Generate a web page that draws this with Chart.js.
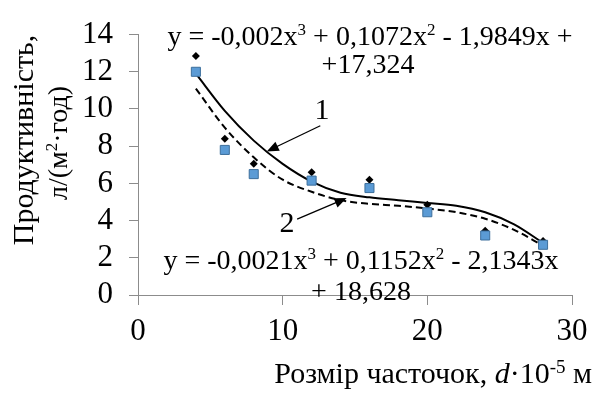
<!DOCTYPE html>
<html>
<head>
<meta charset="utf-8">
<script src="https://cdn.jsdelivr.net/npm/chart.js@4.4.0/dist/chart.umd.min.js"></script>
<style>
    body { margin: 0; background: #fff; }
</style>
</head>
<body>
<canvas id="chart" width="597" height="394"></canvas>
<script>
// Particle size, d*10^-5 m
const sizes = [4, 6, 8, 12, 16, 20, 24, 28];
// Measured productivity, series 1 (diamonds) and 2 (squares)
const prod1 = [12.85, 8.4, 7.05, 6.6, 6.2, 4.85, 3.45, 2.9];
const prod2 = [12.0, 7.8, 6.5, 6.15, 5.75, 4.45, 3.2, 2.7];
// Trend curves
const trendX = [4, 6, 8, 10, 12, 14, 16, 18, 20, 22, 24, 26, 28];
const trend1 = [11.9, 9.9, 8.3, 7.05, 6.1, 5.5, 5.25, 5.1, 4.95, 4.8, 4.45, 3.8, 2.8];
const trend2 = [11.1, 9.0, 7.4, 6.2, 5.55, 5.1, 4.9, 4.8, 4.65, 4.45, 4.1, 3.5, 2.65];

const xTicks = [0, 10, 20, 30];
const yTicks = [0, 2, 4, 6, 8, 10, 12, 14];

const FONT = '"Liberation Serif"';
const AXIS_GREY = '#8c8c8c';

function pairs(xs, ys) {
    return xs.map((x, i) => ({ x: x, y: ys[i] }));
}

// Draw a line of text made of runs, some of them superscript or italic
function drawRich(ctx, runs, x, y, size, align) {
    const fontFor = r => (r.italic ? 'italic ' : '') + Math.round(r.sup ? size * 0.62 : size) + 'px ' + FONT;
    let w = 0;
    runs.forEach(r => { ctx.font = fontFor(r); w += ctx.measureText(r.t).width; });
    let cx = align === 'center' ? x - w / 2 : (align === 'right' ? x - w : x);
    ctx.textAlign = 'left';
    ctx.textBaseline = 'alphabetic';
    runs.forEach(r => {
        ctx.font = fontFor(r);
        ctx.fillText(r.t, cx, r.sup ? y - size * 0.34 : y);
        cx += ctx.measureText(r.t).width;
    });
}

function arrow(ctx, x1, y1, x2, y2) {
    const ang = Math.atan2(y2 - y1, x2 - x1);
    const hl = 12, hw = 5;
    ctx.beginPath();
    ctx.moveTo(x1, y1);
    ctx.lineTo(x2 - Math.cos(ang) * hl * 0.8, y2 - Math.sin(ang) * hl * 0.8);
    ctx.lineWidth = 1.3;
    ctx.strokeStyle = '#000';
    ctx.stroke();
    ctx.beginPath();
    ctx.moveTo(x2, y2);
    ctx.lineTo(x2 - Math.cos(ang) * hl - Math.sin(ang) * hw, y2 - Math.sin(ang) * hl + Math.cos(ang) * hw);
    ctx.lineTo(x2 - Math.cos(ang) * hl + Math.sin(ang) * hw, y2 - Math.sin(ang) * hl - Math.cos(ang) * hw);
    ctx.closePath();
    ctx.fillStyle = '#000';
    ctx.fill();
}

// Titles, equations and the numbered arrows
const annotations = {
    id: 'annotations',
    afterDraw(chart) {
        const ctx = chart.ctx;
        const xs = chart.scales.x, ys = chart.scales.y;
        ctx.save();
        ctx.fillStyle = '#000';

        // y axis title, rotated
        ctx.save();
        ctx.translate(33, 140);
        ctx.rotate(-Math.PI / 2);
        drawRich(ctx, [{ t: 'Продуктивність,' }], 0, 0, 30, 'center');
        ctx.restore();
        ctx.save();
        ctx.translate(67, 143);
        ctx.rotate(-Math.PI / 2);
        drawRich(ctx, [{ t: 'л/(м' }, { t: '2', sup: true }, { t: '·год)' }], 0, 0, 28, 'center');
        ctx.restore();

        // x axis title
        drawRich(ctx, [
            { t: 'Розмір часточок, ' }, { t: 'd', italic: true }, { t: '·10' },
            { t: '-5', sup: true }, { t: ' м' }
        ], 592, 383, 30, 'right');

        // trend equations
        drawRich(ctx, [
            { t: 'y = -0,002x' }, { t: '3', sup: true }, { t: ' + 0,1072x' }, { t: '2', sup: true },
            { t: ' - 1,9849x +' }
        ], 370, 45, 28, 'center');
        drawRich(ctx, [{ t: '+17,324' }], 368, 73, 28, 'center');
        drawRich(ctx, [
            { t: 'y = -0,0021x' }, { t: '3', sup: true }, { t: ' + 0,1152x' }, { t: '2', sup: true },
            { t: ' - 2,1343x' }
        ], 361, 269, 28, 'center');
        drawRich(ctx, [{ t: '+ 18,628' }], 361, 300, 28, 'center');

        // numbered arrows
        drawRich(ctx, [{ t: '1' }], 322, 119, 30, 'center');
        drawRich(ctx, [{ t: '2' }], 287, 232, 30, 'center');
        arrow(ctx, xs.getPixelForValue(12.6), ys.getPixelForValue(9.1),
            xs.getPixelForValue(8.9), ys.getPixelForValue(7.72));
        arrow(ctx, xs.getPixelForValue(11.0), ys.getPixelForValue(4.08),
            xs.getPixelForValue(14.42), ys.getPixelForValue(5.21));
        ctx.restore();
    }
};

function drawChart() {
    new Chart(document.getElementById('chart').getContext('2d'), {
        type: 'scatter',
        data: {
            datasets: [
                {
                    label: '2',
                    data: pairs(sizes, prod2),
                    pointStyle: 'rect',
                    pointRadius: 6.4,
                    backgroundColor: '#5b9bd5',
                    borderColor: '#3d6f9c',
                    borderWidth: 1
                },
                {
                    label: '1',
                    data: pairs(sizes, prod1),
                    pointStyle: 'rectRot',
                    pointRadius: 4,
                    backgroundColor: '#000',
                    borderColor: '#000',
                    borderWidth: 0
                },
                {
                    label: 'Тренд 1',
                    data: pairs(trendX, trend1),
                    showLine: true,
                    pointRadius: 0,
                    borderColor: '#000',
                    borderWidth: 2,
                    cubicInterpolationMode: 'monotone'
                },
                {
                    label: 'Тренд 2',
                    data: pairs(trendX, trend2),
                    showLine: true,
                    pointRadius: 0,
                    borderColor: '#000',
                    borderWidth: 2,
                    borderDash: [7, 4],
                    cubicInterpolationMode: 'monotone'
                }
            ]
        },
        options: {
            responsive: false,
            animation: false,
            layout: { padding: { left: 0, top: 26, right: 25, bottom: 0 } },
            plugins: {
                legend: { display: false },
                tooltip: { enabled: false }
            },
            scales: {
                x: {
                    type: 'linear',
                    min: 0,
                    max: 30,
                    afterBuildTicks: s => { s.ticks = xTicks.map(v => ({ value: v })); },
                    afterFit: s => { s.height = 99; },
                    border: { color: AXIS_GREY, width: 1 },
                    grid: { drawOnChartArea: false, color: AXIS_GREY, tickLength: 10 },
                    ticks: { color: '#000', padding: 8, autoSkip: false, maxRotation: 0, font: { family: FONT, size: 31 } }
                },
                y: {
                    type: 'linear',
                    min: 0,
                    max: 14,
                    afterBuildTicks: s => { s.ticks = yTicks.map(v => ({ value: v })); },
                    afterFit: s => { s.width = 138; },
                    border: { color: AXIS_GREY, width: 1 },
                    grid: { drawOnChartArea: false, color: AXIS_GREY, tickLength: 9 },
                    ticks: { color: '#000', padding: 16, autoSkip: false, font: { family: FONT, size: 31 } }
                }
            }
        },
        plugins: [annotations]
    });
}

// make sure the serif face is ready before the canvas uses it
document.fonts.load('30px "Liberation Serif"').then(drawChart, drawChart);
</script>
</body>
</html>
